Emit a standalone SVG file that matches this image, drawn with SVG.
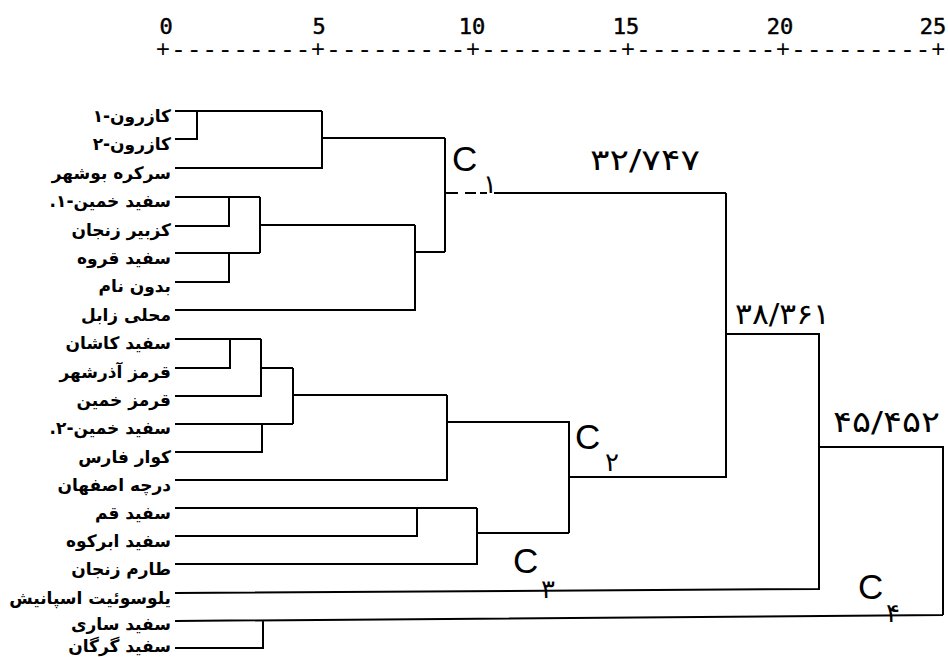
<svg xmlns="http://www.w3.org/2000/svg" width="948" height="657" viewBox="0 0 948 657">
<style>
.lbl{font-family:"DejaVu Sans",sans-serif;font-size:17px;font-weight:bold;fill:#000;text-anchor:end}
.ax{font-family:"DejaVu Sans Mono",monospace;font-size:22px;fill:#000;stroke:#000;stroke-width:0.5;text-anchor:middle}
.axl{font-family:"Liberation Mono",monospace;font-size:24px;fill:#000}
.cc{font-family:"Liberation Sans",sans-serif;font-size:35px;fill:#000}
.cs{font-family:"DejaVu Sans",sans-serif;font-size:26px;fill:#000;text-anchor:middle}
.val{font-family:"DejaVu Sans",sans-serif;font-size:29px;fill:#000}
.ln{fill:none;stroke:#000;stroke-width:2}
</style>
<rect width="948" height="657" fill="#fff"/>
<g id="axis">
<text class="ax" x="166" y="34">0</text>
<text class="ax" x="319" y="34">5</text>
<text class="ax" x="472" y="34">10</text>
<text class="ax" x="626" y="34">15</text>
<text class="ax" x="780" y="34">20</text>
<text class="ax" x="933" y="34">25</text>
<text class="axl" x="155.8" y="57" letter-spacing="1.14">+---------</text>
<text class="axl" x="310.8" y="57" letter-spacing="1.14">+---------</text>
<text class="axl" x="465.8" y="57" letter-spacing="1.14">+---------</text>
<text class="axl" x="620.8" y="57" letter-spacing="1.14">+---------</text>
<text class="axl" x="775.8" y="57" letter-spacing="1.14">+---------</text>
<text class="axl" x="931" y="57">+</text>
</g>
<g id="leaves">
<g id="n1"><text class="lbl" x="171" y="122">کازرون-۱</text></g>
<g id="n2"><text class="lbl" x="171" y="150">کازرون-۲</text></g>
<g id="n3"><text class="lbl" x="171" y="179">سرکره بوشهر</text></g>
<g id="n4"><text class="lbl" x="171" y="207">سفید خمین-۱.&#x200F;</text></g>
<g id="n5"><text class="lbl" x="171" y="236">کزبیر زنجان</text></g>
<g id="n6"><text class="lbl" x="171" y="264">سفید قروه</text></g>
<g id="n7"><text class="lbl" x="171" y="292">بدون نام</text></g>
<g id="n8"><text class="lbl" x="171" y="321">محلی زابل</text></g>
<g id="n9"><text class="lbl" x="171" y="349">سفید کاشان</text></g>
<g id="n10"><text class="lbl" x="171" y="378">قرمز آذرشهر</text></g>
<g id="n11"><text class="lbl" x="171" y="406">قرمز خمین</text></g>
<g id="n12"><text class="lbl" x="171" y="434">سفید خمین-۲.&#x200F;</text></g>
<g id="n13"><text class="lbl" x="171" y="463">کوار فارس</text></g>
<g id="n14"><text class="lbl" x="171" y="491">درچه اصفهان</text></g>
<g id="n15"><text class="lbl" x="171" y="519">سفید قم</text></g>
<g id="n16"><text class="lbl" x="171" y="547">سفید ابرکوه</text></g>
<g id="n17"><text class="lbl" x="171" y="575">طارم زنجان</text></g>
<g id="n18"><text class="lbl" x="171" y="604">یلوسوئیت اسپانیش</text></g>
<g id="n19"><text class="lbl" x="171" y="630">سفید ساری</text></g>
<g id="n20"><text class="lbl" x="171" y="652">سفید گرگان</text></g>
</g>
<g id="connectors" class="ln">
<path d="M175 111H322M175 139H197V111M175 168H322V111M322 138H445"/>
<path d="M175 197H260M175 226H229V197M175 253H260M175 282H229V253M260 197V253M260 225H415M175 310H415V225M415 252H445M445 138V252"/>
<path d="M445 193H458M465 193H476M480 193H487M494 193H726"/>
<path d="M175 339H261M175 368H230V339M175 396H261V339M261 368H293M175 424H293M175 452H262V424M293 368V424M293 395H447M175 480H447V395M447 422H569V533"/>
<path d="M175 508H477M175 536H417V508M175 564H477V508M477 533H569"/>
<path d="M569 477H726V193M726 334H819V590M175 593L819 589"/>
<path d="M819 447H943V615M175 621L943 615M175 648H263V621"/>
</g>
<g id="c1"><text class="cc" x="452" y="171">C</text><text class="cs" x="490" y="193">۱</text></g>
<g id="c2"><text class="cc" x="575" y="449">C</text><text class="cs" x="612" y="471">۲</text></g>
<g id="c3"><text class="cc" x="513" y="573">C</text><text class="cs" x="548" y="598">۳</text></g>
<g id="c4"><text class="cc" x="858" y="599">C</text><text class="cs" x="893" y="622">۴</text></g>
<g id="values">
<text class="val" x="590" y="170" textLength="110" lengthAdjust="spacingAndGlyphs">۳۲/۷۴۷</text>
<text class="val" x="735" y="324" textLength="95" lengthAdjust="spacingAndGlyphs">۳۸/۳۶۱</text>
<text class="val" x="833" y="432" textLength="107" lengthAdjust="spacingAndGlyphs">۴۵/۴۵۲</text>
</g>
</svg>
